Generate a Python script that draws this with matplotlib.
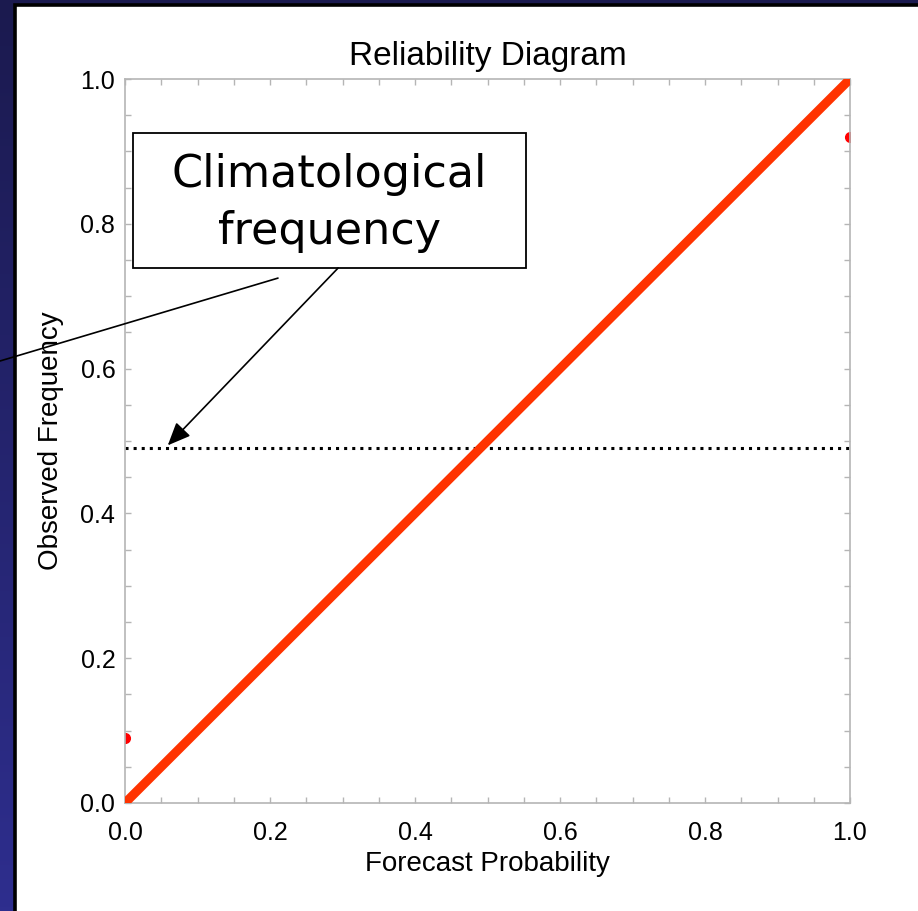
import matplotlib.pyplot as plt
import numpy as np
from matplotlib.patches import Rectangle

# données du diagramme
fcst_prob = [0.0, 1.0]
obs_freq = [0.09, 0.92]
perfect_x = [0.0, 1.0]
perfect_y = [0.0, 1.0]
clim_freq = 0.49
tick_vals = [0.0, 0.2, 0.4, 0.6, 0.8, 1.0]
tick_labels = ["0.0", "0.2", "0.4", "0.6", "0.8", "1.0"]

font = "Liberation Sans"

fig = plt.figure(figsize=(9.18, 9.11), dpi=100)

# fond bleu (dégradé) + panneau blanc
bg = fig.add_axes([0, 0, 1, 1])
grad = np.linspace(0, 1, 256).reshape(-1, 1)
cmap = plt.matplotlib.colors.LinearSegmentedColormap.from_list("nv", ["#1b1a4f", "#2e2e8e"])
bg.imshow(grad, aspect="auto", cmap=cmap, extent=[0, 1, 0, 1], origin="upper")
bg.add_patch(Rectangle((15 / 918, -0.05), 1.1, 1 - 5.5 / 911 + 0.05, facecolor="white",
                       edgecolor="black", linewidth=2.6, transform=bg.transAxes))
bg.set_xlim(0, 1)
bg.set_ylim(0, 1)
bg.axis("off")

ax = fig.add_axes([125 / 918, 1 - 803 / 911, 725 / 918, 724 / 911])
ax.set_xlim(0, 1)
ax.set_ylim(0, 1)
ax.patch.set_alpha(0)

ax.plot(perfect_x, perfect_y, color="#ff3300", linewidth=6.5, solid_capstyle="butt", zorder=3)
ax.plot([0, 1], [clim_freq, clim_freq], color="black", linestyle=":", linewidth=2.2, zorder=2)
ax.plot(fcst_prob, obs_freq, "o", color="red", markersize=7, clip_on=True, zorder=2)

for s in ax.spines.values():
    s.set_color("#b5b5b5")
    s.set_linewidth(1.2)

ax.set_xticks(np.arange(0, 1.0001, 0.05), minor=True)
ax.set_yticks(np.arange(0, 1.0001, 0.05), minor=True)
ax.set_xticks(tick_vals)
ax.set_yticks(tick_vals)
ax.set_xticklabels(tick_labels, fontsize=18, family=font)
ax.set_yticklabels(tick_labels, fontsize=18, family=font)
ax.tick_params(which="both", direction="in", length=4, color="#b5b5b5", width=1,
               top=True, right=True)
ax.tick_params(axis="x", pad=13)
ax.tick_params(axis="y", pad=7)

ax.set_title("Reliability Diagram", fontsize=24, family=font, pad=10)
ax.set_xlabel("Forecast Probability", fontsize=20, family=font, labelpad=4)
ax.set_ylabel("Observed Frequency", fontsize=20, family=font, labelpad=12)

# boite d'annotation
ax.add_patch(Rectangle((0.011, 0.739), 0.542, 0.186, facecolor="white", edgecolor="black",
                       linewidth=1.3, zorder=5))
ax.text(0.282, 0.829, "Climatological\nfrequency", fontsize=32, family="DejaVu Sans",
        ha="center", va="center", linespacing=1.42, zorder=6)

ax.annotate("", xy=(0.059, clim_freq + 0.004), xytext=(0.294, 0.739),
            arrowprops=dict(arrowstyle="-|>,head_length=0.7,head_width=0.3", mutation_scale=20,
                            lw=1.2, color="black", shrinkA=0, shrinkB=0), zorder=6)
ax.annotate("", xy=(0.0, 1 - 361 / 911), xycoords="figure fraction", xytext=(0.211, 0.725),
            textcoords="data",
            arrowprops=dict(arrowstyle="-", lw=1.2, color="black", shrinkA=0, shrinkB=0),
            annotation_clip=False, zorder=6)

plt.savefig("out.png", dpi=100)
